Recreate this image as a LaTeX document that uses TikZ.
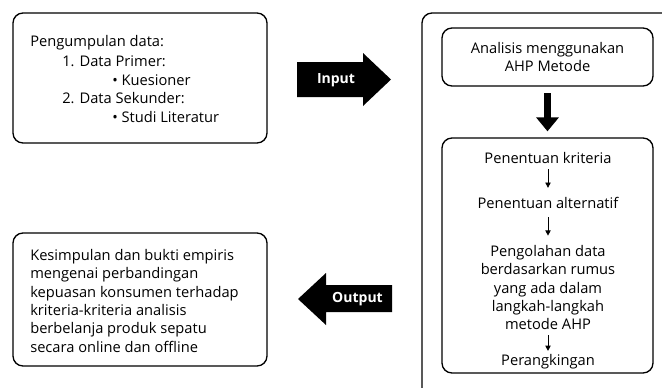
\documentclass[tikz,border=0pt]{standalone}
\usepackage{fontspec}
\setmainfont{Open Sans}
\usetikzlibrary{arrows.meta, positioning}

\tikzset{
  box/.style={draw, line width=1pt, rounded corners=7.5pt},
  txt/.style={inner sep=0pt, font=\fontsize{11}{13.75}\selectfont},
  flow/.style={-{Triangle[length=4pt,width=4pt]}, line width=0.7pt},
  bigflow/.style={-{Triangle[length=10.5pt,width=16.5pt]}, line width=5.25pt},
  blocklabel/.style={inner sep=0pt, text=white, font=\bfseries\fontsize{10.5}{12}\selectfont},
}

\begin{document}
\begin{tikzpicture}[x=0.75pt,y=-0.75pt]
  \useasboundingbox (0,0) rectangle (662,387);
  % kotak pengumpulan data
  \node[box, minimum width=190.5pt, minimum height=97.5pt] (collect) at (140,78) {};
  \node[txt, anchor=base west] (collecthead) at (30,46.5) {Pengumpulan data:};
  \node[txt, anchor=base west] (primer) at (62,66.5) {1. Data Primer:};
  \node[txt, anchor=base west] (kuesioner) at (112,85) {• Kuesioner};
  \node[txt, anchor=base west] (sekunder) at (62,103) {2. Data Sekunder:};
  \node[txt, anchor=base west] (studi) at (112,122.5) {• Studi Literatur};
  % kotak kesimpulan
  \node[box, minimum width=190.5pt, minimum height=99.75pt] (result) at (140,299.5) {};
  \node[txt, anchor=north west, align=left] (resulttext) at (30,249)
    {Kesimpulan dan bukti empiris\\mengenai perbandingan\\kepuasan konsumen terhadap\\kriteria-kriteria analisis\\berbelanja produk sepatu\\secara online dan offline};
  % panah input
  \fill (297,62) -- (363,62) -- (363,53) -- (391,79.5) -- (363,106) -- (363,97) -- (297,97) -- cycle;
  \node[blocklabel] (input) at (336,80) {Input};
  % panah output
  \fill (392,285) -- (326,285) -- (326,273) -- (298,299) -- (326,325) -- (326,312) -- (392,312) -- cycle;
  \node[blocklabel] (output) at (357.5,299) {Output};
  % kotak analisis (terpotong di tepi)
  \begin{scope}
    \clip (0,0) rectangle (662,387);
    \draw[box] (422,13) rectangle (700,420);
  \end{scope}
  \node[box, txt, inner sep=0pt, minimum width=158.25pt, minimum height=43.5pt, align=center] (ahp) at (547.5,57)
    {Analisis menggunakan\\AHP Metode};
  \node[box, minimum width=158.25pt, minimum height=176.25pt] (steps) at (547.5,255.5) {};
  \draw[bigflow, shorten <=5pt, shorten >=4.5pt] (ahp) -- (steps);
  % langkah-langkah
  \node[txt, anchor=base] (kriteria) at (548,163) {Penentuan kriteria};
  \node[txt, anchor=base] (alternatif) at (548,208) {Penentuan alternatif};
  \node[txt, anchor=north, align=center] (olah) at (548,245)
    {Pengolahan data\\berdasarkan rumus\\yang ada dalam\\langkah-langkah\\metode AHP};
  \node[txt, anchor=base] (ranking) at (548,365) {Perangkingan};
  \draw[flow, shorten <=4.5pt, shorten >=6.5pt] (kriteria) -- (alternatif);
  \draw[flow, shorten <=6.5pt, shorten >=7pt] (alternatif) -- (olah);
  \draw[flow, shorten <=4pt, shorten >=2pt] (olah) -- (ranking);
\end{tikzpicture}
\end{document}
